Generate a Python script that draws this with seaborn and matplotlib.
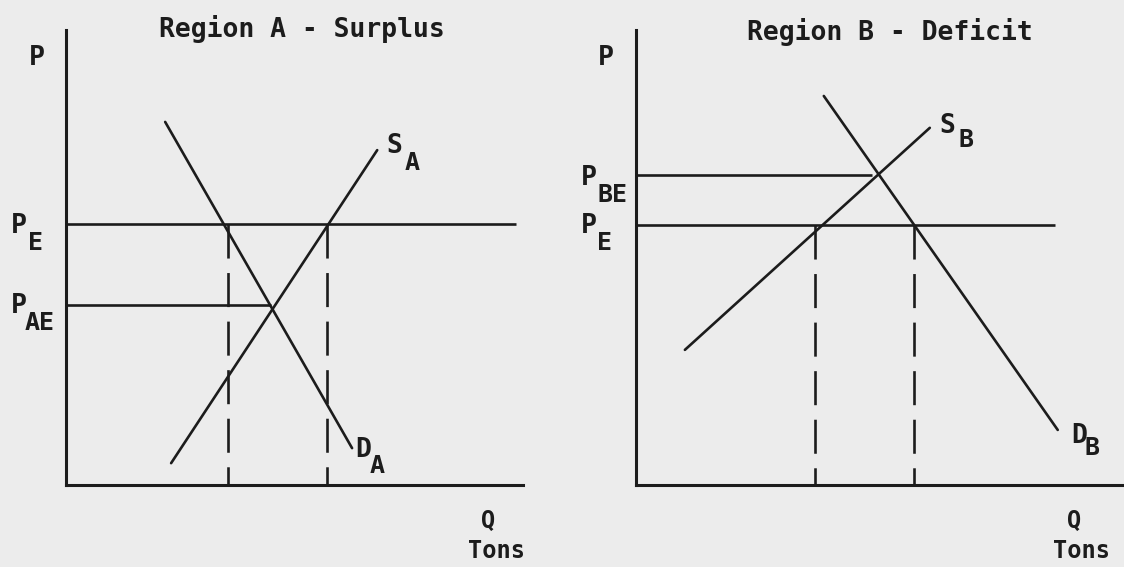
import matplotlib
matplotlib.use("Agg")
import matplotlib.pyplot as plt
import seaborn as sns
import pandas as pd

# Region A - Surplus (price on y, quantity on x, arbitrary units)
a_demand_q = [2.17, 6.26]
a_demand_p = [7.98, 0.81]
a_supply_q = [2.30, 6.81]
a_supply_p = [0.48, 7.36]
a_pe = 5.74          # world equilibrium price
a_pe_end = 9.85
a_pae = 3.96         # autarky price in A
a_pae_end = 4.49
a_dash_q = [3.54, 5.71]

# Region B - Deficit
b_demand_q = [4.11, 9.23]
b_demand_p = [8.55, 1.21]
b_supply_q = [1.07, 6.43]
b_supply_p = [2.97, 7.85]
b_pe = 5.71
b_pe_end = 9.17
b_pbe = 6.81         # autarky price in B
b_pbe_end = 5.16
b_dash_q = [3.92, 6.08]

sns.set_style("white")
plt.rcParams["font.family"] = ["DejaVu Sans Mono", "DejaVu Sans"]
plt.rcParams["font.weight"] = "bold"

ink = "#1c1c1c"
paper = "#ececec"
fs = 19
fs_sub = 18

fig = plt.figure(figsize=(11.24, 5.67), dpi=100, facecolor=paper)
ax_a = fig.add_axes([0.05872, 0.14462, 0.40658, 0.80247])
ax_b = fig.add_axes([0.56584, 0.14462, 0.43416, 0.80247])


def setup(ax, xmax):
    ax.set_facecolor(paper)
    ax.set_xlim(0, xmax)
    ax.set_ylim(0, 10)
    ax.set_xticks([])
    ax.set_yticks([])
    ax.set_xlabel("")
    ax.set_ylabel("")
    for side in ["top", "right"]:
        ax.spines[side].set_visible(False)
    for side in ["left", "bottom"]:
        ax.spines[side].set_color(ink)
        ax.spines[side].set_linewidth(2.2)


def curve(ax, q, p):
    df = pd.DataFrame({"Q": q, "P": p})
    sns.lineplot(data=df, x="Q", y="P", ax=ax, color=ink, linewidth=1.9, sort=False)


def dashed(ax, qs, top):
    # drawn from the price line down so the first dash touches it
    ax.vlines(qs, top, 0, colors=ink, linewidth=1.9, linestyles=[(0, (12.9, 5.5))])


def label(ax, x, y, main, sub, dx, dy, ha="center"):
    ax.text(x, y, main, fontsize=fs, color=ink, ha=ha, va="baseline")
    ax.text(x + dx, y - dy, sub, fontsize=fs_sub, color=ink, ha="left", va="baseline")


# ---- left panel ----
curve(ax_a, a_demand_q, a_demand_p)
curve(ax_a, a_supply_q, a_supply_p)
ax_a.hlines(a_pe, 0, a_pe_end, colors=ink, linewidth=1.9)
ax_a.hlines(a_pae, 0, a_pae_end, colors=ink, linewidth=1.9)
dashed(ax_a, a_dash_q, a_pe)
setup(ax_a, 10)

ax_a.text(5.16, 9.85, "Region A - Surplus", fontsize=fs, color=ink, ha="center", va="baseline")
ax_a.text(-0.63, 9.23, "P", fontsize=fs, color=ink, ha="center", va="baseline")
label(ax_a, -1.04, a_pe - 0.2, "P", "E", 0.21, 0.38)
label(ax_a, -1.04, a_pae - 0.18, "P", "AE", 0.14, 0.37)
label(ax_a, 7.02, 7.30, "S", "A", 0.38, 0.38, ha="left")
label(ax_a, 6.32, 0.62, "D", "A", 0.33, 0.36, ha="left")
ax_a.text(9.23, -0.95, "Q", fontsize=17, color=ink, ha="center", va="baseline")
ax_a.text(9.41, -1.60, "Tons", fontsize=17, color=ink, ha="center", va="baseline")

# ---- right panel ----
curve(ax_b, b_demand_q, b_demand_p)
curve(ax_b, b_supply_q, b_supply_p)
ax_b.hlines(b_pe, 0, b_pe_end, colors=ink, linewidth=1.9)
ax_b.hlines(b_pbe, 0, b_pbe_end, colors=ink, linewidth=1.9)
dashed(ax_b, b_dash_q, b_pe)
setup(ax_b, 10.68)

ax_b.text(5.56, 9.78, "Region B - Deficit", fontsize=fs, color=ink, ha="center", va="baseline")
ax_b.text(-0.66, 9.23, "P", fontsize=fs, color=ink, ha="center", va="baseline")
label(ax_b, -1.04, b_pbe - 0.22, "P", "BE", 0.19, 0.37)
label(ax_b, -1.04, b_pe - 0.17, "P", "E", 0.19, 0.38)
label(ax_b, 6.65, 7.74, "S", "B", 0.40, 0.31, ha="left")
label(ax_b, 9.52, 0.92, "D", "B", 0.30, 0.26, ha="left")
ax_b.text(9.58, -0.95, "Q", fontsize=17, color=ink, ha="center", va="baseline")
ax_b.text(9.76, -1.60, "Tons", fontsize=17, color=ink, ha="center", va="baseline")

fig.savefig("out.png", dpi=100, facecolor=paper)
